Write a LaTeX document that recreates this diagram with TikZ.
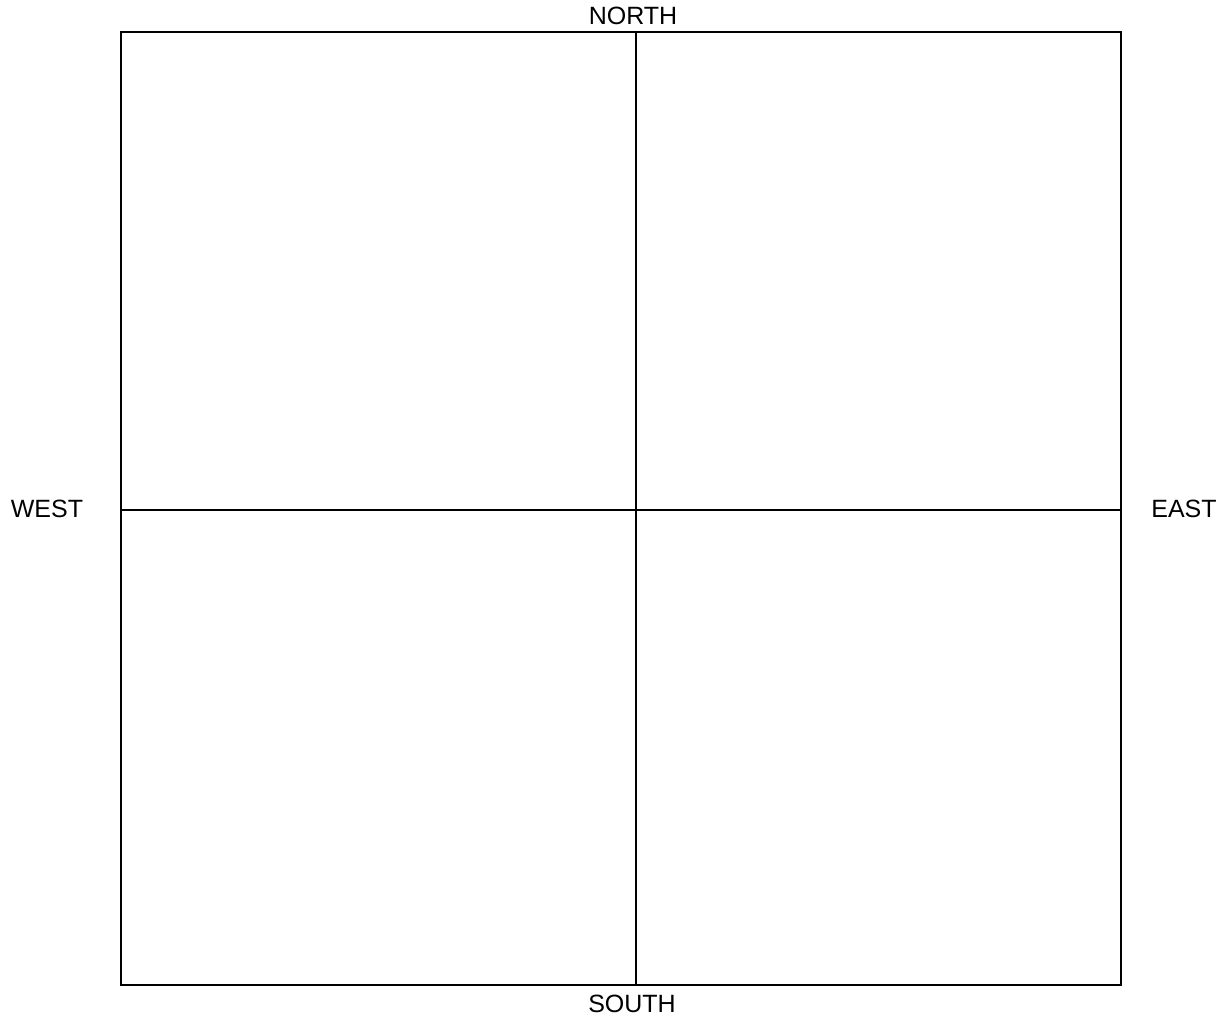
\documentclass[tikz,border=0pt]{standalone}
\usepackage{fontspec}
\setmainfont{Liberation Sans}
\begin{document}
\begin{tikzpicture}[x=1pt,y=-1pt,
  lbl/.style={inner sep=0pt, font=\fontsize{25}{30}\selectfont, anchor=center},
  frame/.style={draw=black, line width=2pt}]
\useasboundingbox (0,0) rectangle (1227,1018);
\coordinate (tl) at (121,32);
\coordinate (br) at (1121,985);
\coordinate (nt) at (636,32);
\coordinate (nb) at (636,985);
\coordinate (wl) at (121,510);
\coordinate (er) at (1121,510);
\draw[frame] (tl) rectangle (br);
\draw[frame] (nt) -- (nb);
\draw[frame] (wl) -- (er);
\node[lbl] (north) at (633,16) {NORTH};
\node[lbl] (south) at (632,1004) {SOUTH};
\node[lbl] (west) at (47,509) {WEST};
\node[lbl] (east) at (1184,509) {EAST};
\end{tikzpicture}
\end{document}
